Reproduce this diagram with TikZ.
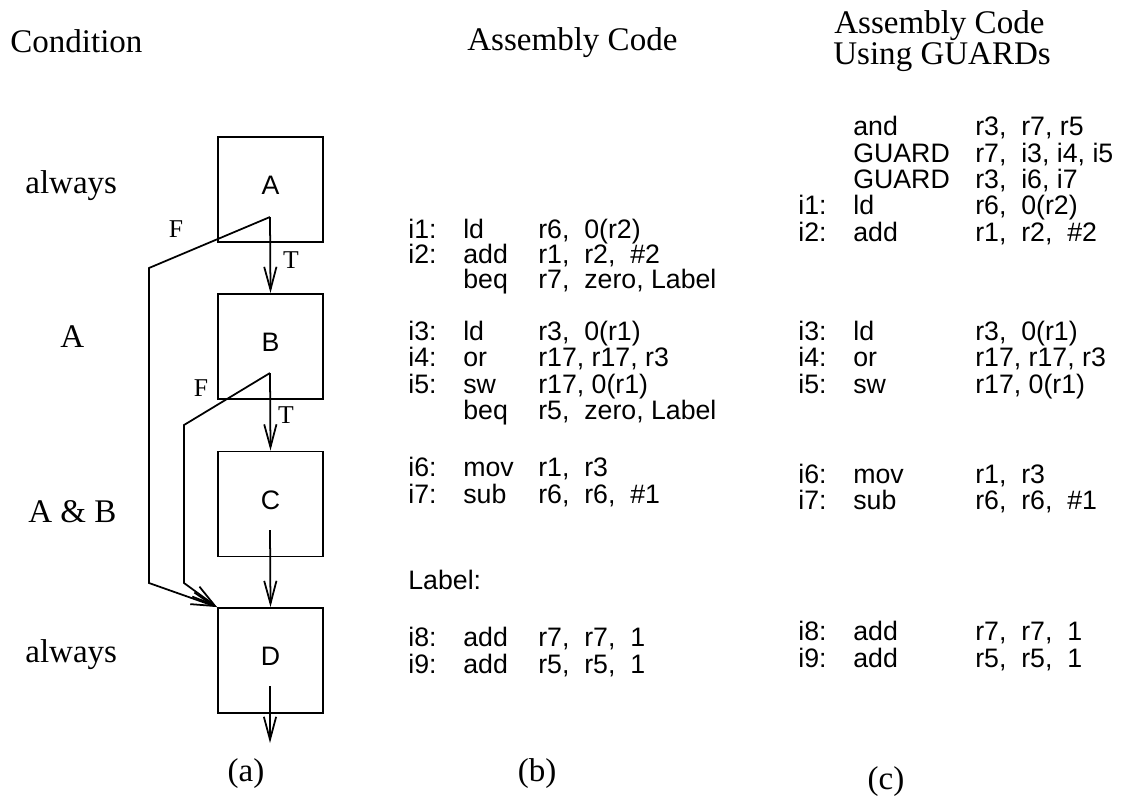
\documentclass[tikz,border=0pt]{standalone}
\usepackage{fontspec}
\setmainfont{Liberation Serif}
\setsansfont{Liberation Sans}
\usetikzlibrary{arrows.meta, positioning}

% one line of code: label, opcode, operands
\newcommand{\asmb}[3]{\makebox[1.1cm][l]{#1}\makebox[1.5cm][l]{#2}#3}
\newcommand{\asmc}[3]{\makebox[1.1cm][l]{#1}\makebox[2.44cm][l]{#2}#3}

\tikzset{
  blk/.style={draw, line width=1.1pt, minimum width=2.1cm, minimum height=2.1cm,
              font=\sffamily\fontsize{15.2}{18}\selectfont, text depth=0.16cm},
  code/.style={anchor=base west, inner sep=0pt, font=\sffamily\fontsize{15.2}{18}\selectfont},
  cond/.style={anchor=base west, inner sep=0pt, font=\fontsize{18.8}{20}\selectfont},
  capt/.style={anchor=base, inner sep=0pt, font=\fontsize{18.8}{20}\selectfont},
  tf/.style={inner sep=0pt, font=\fontsize{14.6}{16}\selectfont},
  flow/.style={-{Straight Barb[length=13pt,width=7pt]}, line width=1pt},
}

\begin{document}
\begin{tikzpicture}[x=0.02cm, y=-0.02cm]
  \useasboundingbox (0,0) rectangle (1124,809);
  % --- headings ---
  \node[cond] (hcond) at (10,52) {Condition};
  \node[cond] (hasm) at (467,50) {Assembly Code};
  \node[cond] (hguard) at (834,33) {Assembly Code};
  \node[cond] (hguard2) at (833,64) {Using GUARDs};
  % --- conditions ---
  \node[cond] (cA) at (25,193) {always};
  \node[cond] (cB) at (60,347) {A};
  \node[cond] (cC) at (28,522) {A \& B};
  \node[cond] (cD) at (25,662) {always};
  % --- flow graph (a) ---
  \node[blk] (A) at (270.5,189.5) {A};
  \node[blk] (B) at (270.5,346.5) {B};
  \node[blk] (C) at (270.5,504) {C};
  \node[blk] (D) at (270.5,660.5) {D};
  \coordinate (Aout) at (270,217);
  \coordinate (Afold) at (149,268);
  \coordinate (Adown) at (149,583);
  \coordinate (Bout) at (270,373);
  \coordinate (Bfold) at (184,425);
  \coordinate (Bdown) at (184,583);
  \coordinate (Cout) at (270,530);
  \coordinate (Dout) at (270,686);
  \coordinate (Dend) at (270,743);
  \draw[flow] (Aout) -- (B.north);
  \draw[flow] (Aout) -- (Afold) -- (Adown) -- (D.north west);
  \draw[flow] (Bout) -- (C.north);
  \draw[flow] (Bout) -- (Bfold) -- (Bdown) -- (D.north west);
  \draw[flow] (Cout) -- (D.north);
  \draw[flow] (Dout) -- (Dend);
  \node[tf] (fA) at (176,229) {F};
  \node[tf] (tA) at (291,260) {T};
  \node[tf] (fB) at (201,388) {F};
  \node[tf] (tB) at (286,415) {T};
  % --- code (b) ---
  \node[code] (b1) at (408,238) {\asmb{i1:}{ld}{r6,\ \ 0(r2)}};
  \node[code] (b2) at (408,263) {\asmb{i2:}{add}{r1,\ \ r2,\ \ \#2}};
  \node[code] (b3) at (408,288) {\asmb{}{beq}{r7,\ \ zero, Label}};
  \node[code] (b4) at (408,340) {\asmb{i3:}{ld}{r3,\ \ 0(r1)}};
  \node[code] (b5) at (408,366) {\asmb{i4:}{or}{r17, r17, r3}};
  \node[code] (b6) at (408,393) {\asmb{i5:}{sw}{r17, 0(r1)}};
  \node[code] (b7) at (408,419) {\asmb{}{beq}{r5,\ \ zero, Label}};
  \node[code] (b8) at (408,476) {\asmb{i6:}{mov}{r1,\ \ r3}};
  \node[code] (b9) at (408,503) {\asmb{i7:}{sub}{r6,\ \ r6,\ \ \#1}};
  \node[code] (bl) at (408,589) {Label:};
  \node[code] (b10) at (408,646) {\asmb{i8:}{add}{r7,\ \ r7,\ \ 1}};
  \node[code] (b11) at (408,673) {\asmb{i9:}{add}{r5,\ \ r5,\ \ 1}};
  % --- code with guards (c) ---
  \node[code] (c1) at (798,135) {\asmc{}{and}{r3,\ \ r7, r5}};
  \node[code] (c2) at (798,162) {\asmc{}{GUARD}{r7,\ \ i3, i4, i5}};
  \node[code] (c3) at (798,188) {\asmc{}{GUARD}{r3,\ \ i6, i7}};
  \node[code] (c4) at (798,214) {\asmc{i1:}{ld}{r6,\ \ 0(r2)}};
  \node[code] (c5) at (798,241) {\asmc{i2:}{add}{r1,\ \ r2,\ \ \#2}};
  \node[code] (c6) at (798,340) {\asmc{i3:}{ld}{r3,\ \ 0(r1)}};
  \node[code] (c7) at (798,366) {\asmc{i4:}{or}{r17, r17, r3}};
  \node[code] (c8) at (798,393) {\asmc{i5:}{sw}{r17, 0(r1)}};
  \node[code] (c9) at (798,483) {\asmc{i6:}{mov}{r1,\ \ r3}};
  \node[code] (c10) at (798,509) {\asmc{i7:}{sub}{r6,\ \ r6,\ \ \#1}};
  \node[code] (c11) at (798,640) {\asmc{i8:}{add}{r7,\ \ r7,\ \ 1}};
  \node[code] (c12) at (798,667) {\asmc{i9:}{add}{r5,\ \ r5,\ \ 1}};
  % --- captions ---
  \node[capt] (ca) at (246,781) {(a)};
  \node[capt] (cb) at (537,781) {(b)};
  \node[capt] (cc) at (886,789) {(c)};
\end{tikzpicture}
\end{document}
